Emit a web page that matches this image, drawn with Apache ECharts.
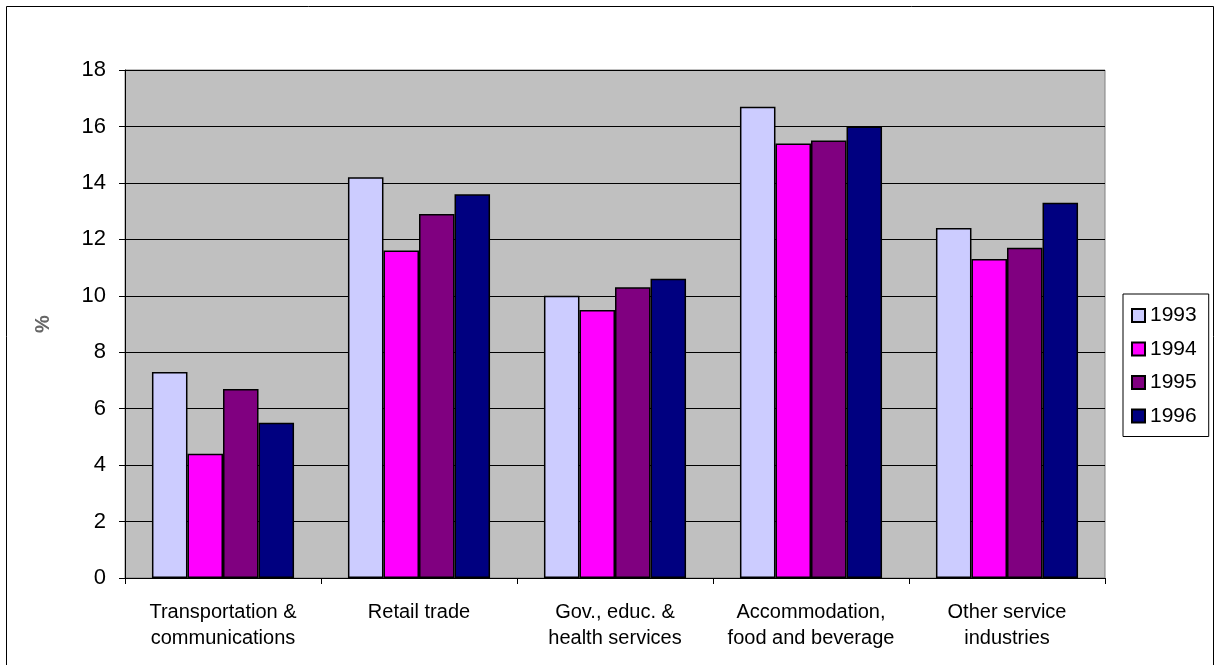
<!DOCTYPE html>
<html><head><meta charset="utf-8">
<script src="https://cdn.jsdelivr.net/npm/echarts@6/dist/echarts.min.js"></script>
<style>html,body{margin:0;padding:0;background:#fff}#c{width:1215px;height:665px}</style>
</head><body><div id="c"></div>
<script>
const categories = ["Transportation &\ncommunications", "Retail trade", "Gov., educ. &\nhealth services", "Accommodation,\nfood and beverage", "Other service\nindustries"];
const years = ["1993", "1994", "1995", "1996"];
const v1993 = [7.3, 14.2, 10.0, 16.7, 12.4];
const v1994 = [4.4, 11.6, 9.5, 15.4, 11.3];
const v1995 = [6.7, 12.9, 10.3, 15.5, 11.7];
const v1996 = [5.5, 13.6, 10.6, 16.0, 13.3];
const colors = ["#CCCCFF", "#FF00FF", "#800080", "#000080"];
const seriesData = [v1993, v1994, v1995, v1996];

const chart = echarts.init(document.getElementById('c'));
chart.setOption({
  animation: false,
  textStyle: { fontFamily: 'Liberation Sans, Arial, sans-serif' },
  graphic: [{ type: 'rect', shape: { x: 6.5, y: 6.5, width: 1207, height: 665 }, style: { fill: 'none', stroke: '#000', lineWidth: 1 } }],
  grid: { left: 125, right: 110, top: 70, bottom: 87, show: true, backgroundColor: '#C0C0C0', borderColor: '#808080', borderWidth: 1 },
  legend: {
    orient: 'vertical', left: 1123, top: 294, padding: [11, 12, 10, 8], itemGap: 12.5,
    borderColor: '#000', borderWidth: 1, backgroundColor: '#fff',
    itemWidth: 13, itemHeight: 13, icon: 'rect',
    textStyle: { fontSize: 21, color: '#000', padding: [0, 0, 0, 0], lineHeight: 21 },
    data: years
  },
  xAxis: {
    type: 'category', data: categories,
    axisLine: { lineStyle: { color: '#000' } },
    axisTick: { show: true, length: 6, lineStyle: { color: '#000' } },
    axisLabel: { fontSize: 20, color: '#000', lineHeight: 26, margin: 21, interval: 0 }
  },
  yAxis: {
    type: 'value', min: 0, max: 18, interval: 2,
    name: '%', nameLocation: 'middle', nameGap: 72, nameRotate: 90,
    nameTextStyle: { fontSize: 20, fontWeight: 'bold', color: '#666' },
    axisLine: { show: true, lineStyle: { color: '#000' } },
    axisTick: { show: true, length: 6, lineStyle: { color: '#000' } },
    axisLabel: { fontSize: 22, color: '#000', margin: 19 },
    splitLine: { lineStyle: { color: '#000', width: 1 } }
  },
  series: years.map((y, i) => ({
    name: y, type: 'bar', data: seriesData[i],
    barGap: '0%', barCategoryGap: '27.5%',
    itemStyle: { color: colors[i], borderColor: '#000', borderWidth: 1.5 }
  }))
});
</script></body></html>
